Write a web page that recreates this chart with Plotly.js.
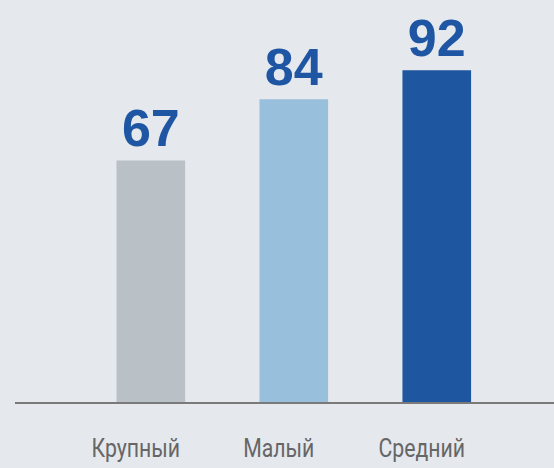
<!DOCTYPE html>
<html>
<head>
<meta charset="utf-8">
<script src="https://cdn.plot.ly/plotly-3.0.1.min.js"></script>
<style>
html,body{margin:0;padding:0;background:#e5e8ed;}
#chart{width:554px;height:468px;}
</style>
</head>
<body>
<div id="chart"></div>
<script>
const categories = ["Крупный", "Малый", "Средний"];
const values = [67, 84, 92];
const barColors = ["#b9c0c6", "#98bfdc", "#1f56a0"];

const trace = {
  type: "bar",
  x: categories,
  y: values,
  width: 0.48,
  marker: {color: barColors},
  text: values.map(String),
  textposition: "outside",
  cliponaxis: false,
  textfont: {family: "Liberation Sans, Arial, sans-serif", size: 52, color: "#1f56a3", weight: "bold"},
  hoverinfo: "none"
};

const layout = {
  width: 554,
  height: 468,
  margin: {l: 15, r: 0, t: 0, b: 66},
  paper_bgcolor: "#e5e8ed",
  plot_bgcolor: "#e5e8ed",
  showlegend: false,
  xaxis: {
    type: "category",
    range: [-0.95, 2.82],
    showline: true,
    linecolor: "#7a7a7a",
    linewidth: 1.5,
    showgrid: false,
    zeroline: false,
    ticks: "",
    ticklabelstandoff: 24,
    ticklabelshift: -15,
    tickfont: {family: "Roboto, sans-serif", size: 25, color: "#666666"},
    fixedrange: true
  },
  yaxis: {
    range: [0, 111.5],
    visible: false,
    showgrid: false,
    zeroline: false,
    fixedrange: true
  }
};

Plotly.newPlot("chart", [trace], layout, {displayModeBar: false, staticPlot: true}).then(function (gd) {
  // emulate a condensed face: squeeze tick labels horizontally around their centres
  gd.querySelectorAll(".xtick text").forEach(function (t) {
    const bb = t.getBBox();
    const cx = bb.x + bb.width / 2;
    const prev = t.getAttribute("transform") || "";
    t.setAttribute("transform", prev + " translate(" + cx + ",0) scale(0.85,1) translate(" + (-cx) + ",0)");
  });
});
</script>
</body>
</html>
